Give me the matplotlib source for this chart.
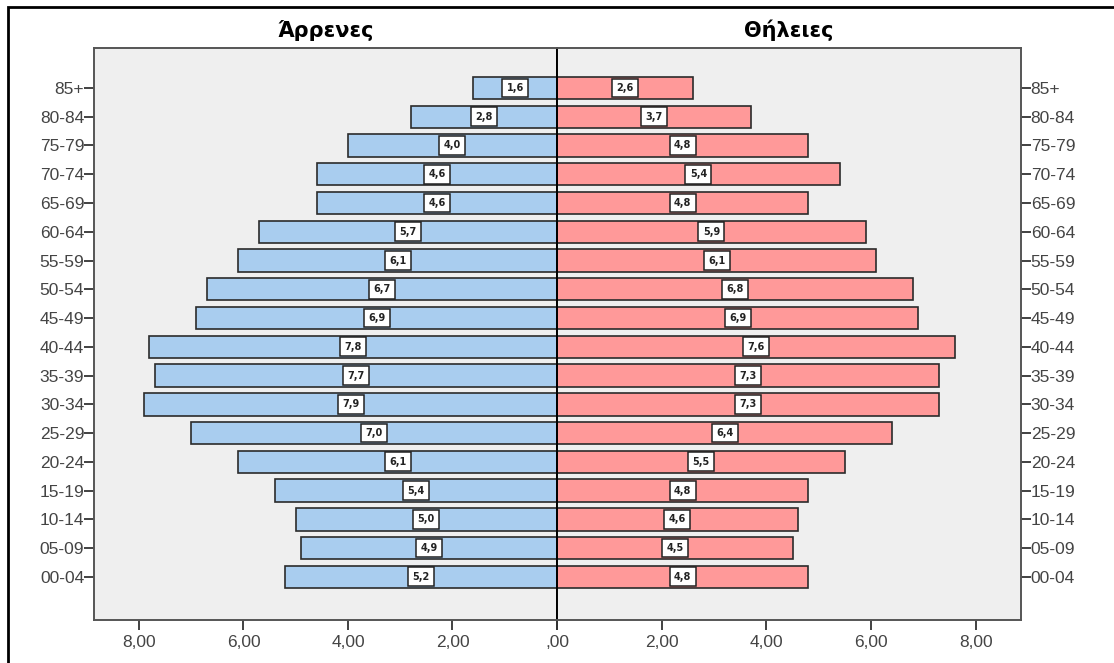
import matplotlib
matplotlib.use("Agg")
import matplotlib.pyplot as plt
from matplotlib.patches import Rectangle

# age groups from youngest to oldest
ageGroups = ["00-04", "05-09", "10-14", "15-19", "20-24", "25-29", "30-34",
             "35-39", "40-44", "45-49", "50-54", "55-59", "60-64", "65-69",
             "70-74", "75-79", "80-84", "85+"]
males = [5.2, 4.9, 5.0, 5.4, 6.1, 7.0, 7.9, 7.7, 7.8, 6.9, 6.7, 6.1, 5.7,
         4.6, 4.6, 4.0, 2.8, 1.6]
females = [4.8, 4.5, 4.6, 4.8, 5.5, 6.4, 7.3, 7.3, 7.6, 6.9, 6.8, 6.1, 5.9,
           4.8, 5.4, 4.8, 3.7, 2.6]
xTicks = [0, 2, 4, 6, 8]
xTickLabels = [",00", "2,00", "4,00", "6,00", "8,00"]

W, H = 1114, 663
fig = plt.figure(figsize=(W / 100, H / 100), dpi=100)

# outer frame (runs off the right and bottom edges like the original)
fig.patches.append(Rectangle((8 / W, -10 / H), 1120 / W, 666 / H, transform=fig.transFigure,
                             fill=False, edgecolor="black", linewidth=2))

axL = fig.add_axes([94 / W, 43 / H, 463 / W, 572 / H])
axR = fig.add_axes([557 / W, 43 / H, 464 / W, 572 / H])

ypos = list(range(len(ageGroups)))
xmax = 8.86
tickFont = "Liberation Sans"

for ax, vals, col, title in [(axL, males, "#A9CDEF", "Άρρενες"),
                             (axR, females, "#FF9999", "Θήλειες")]:
    ax.set_facecolor("#EFEFEF")
    ax.barh(ypos, vals, height=0.78, color=col, edgecolor="#2b2b2b", linewidth=1.2)
    for y, v in zip(ypos, vals):
        ax.text(v / 2, y, ("%.1f" % v).replace(".", ","), ha="center", va="center",
                fontsize=7, fontweight="bold", color="#222222",
                bbox=dict(boxstyle="square,pad=0.45", facecolor="white",
                          edgecolor="#222222", linewidth=1.1))
    ax.set_ylim(-1.5, 18.39)
    ax.set_xticks(xTicks)
    ax.set_xticklabels(xTickLabels, fontsize=12.5, color="#444444", family=tickFont)
    ax.set_yticks(ypos)
    ax.set_yticklabels(ageGroups, fontsize=12.5, color="#444444", family=tickFont)
    ax.tick_params(length=7, width=1.3, color="#333333", pad=0)
    ax.tick_params(axis="x", pad=4)
    ax.set_title(title, fontsize=15, fontweight="bold", pad=8)
    for s in ax.spines.values():
        s.set_color("#555555")
        s.set_linewidth(1.4)

axL.set_xlim(xmax, 0)
axR.set_xlim(0, xmax)
axL.set_xticklabels(["", "2,00", "4,00", "6,00", "8,00"])
axR.yaxis.tick_right()
axL.spines["right"].set_color("black")
axR.spines["left"].set_color("black")
axR.tick_params(axis="y", left=False)
axL.tick_params(axis="y", right=False)

fig.savefig("out.png", dpi=100)
